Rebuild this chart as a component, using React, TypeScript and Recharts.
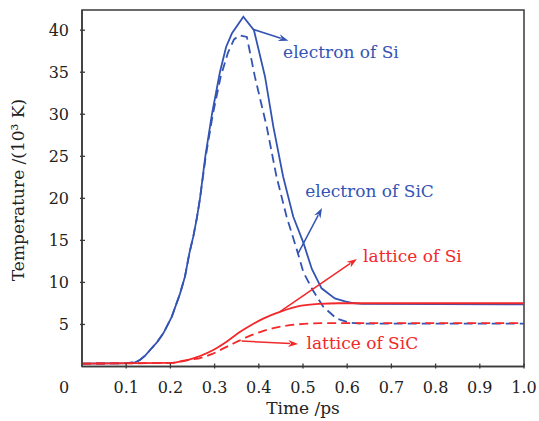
import React from 'react'
import { LineChart, Line, XAxis, YAxis, ReferenceArea, ReferenceLine, ReferenceDot } from 'recharts'

// time (ps) and temperature (10^3 K)
const elecSiT = [0, 0.06, 0.09, 0.1, 0.12, 0.131, 0.143, 0.154, 0.17, 0.184, 0.203, 0.222, 0.233, 0.243, 0.252, 0.26, 0.267, 0.279, 0.294, 0.312, 0.326, 0.339, 0.365, 0.389, 0.414, 0.433, 0.455, 0.478, 0.501, 0.52, 0.542, 0.572, 0.595, 0.613, 0.633, 1.0]
const elecSiV = [0.35, 0.36, 0.38, 0.4, 0.5, 0.77, 1.3, 1.96, 2.9, 3.95, 5.9, 8.7, 10.7, 13.5, 15.5, 17.7, 20.0, 25.0, 30.0, 35.0, 38.0, 39.6, 41.6, 40.0, 34.5, 28.5, 22.6, 17.8, 14.7, 11.6, 9.3, 8.1, 7.75, 7.55, 7.45, 7.4]

const elecSiCT = [0, 0.06, 0.09, 0.1, 0.12, 0.131, 0.143, 0.154, 0.17, 0.184, 0.203, 0.222, 0.233, 0.243, 0.252, 0.26, 0.267, 0.28, 0.296, 0.314, 0.33, 0.344, 0.356, 0.373, 0.391, 0.418, 0.44, 0.463, 0.486, 0.501, 0.523, 0.546, 0.576, 0.606, 0.63, 1.0]
const elecSiCV = [0.35, 0.36, 0.38, 0.4, 0.5, 0.77, 1.3, 1.96, 2.9, 3.95, 5.9, 8.7, 10.7, 13.5, 15.5, 17.7, 20.0, 25.0, 30.0, 34.5, 37.3, 38.9, 39.4, 39.2, 34.5, 28.5, 22.6, 17.8, 13.9, 11.2, 9.0, 7.1, 5.7, 5.2, 5.1, 5.1]

const latSiT = [0, 0.2, 0.23, 0.25, 0.267, 0.297, 0.327, 0.357, 0.385, 0.41, 0.448, 0.493, 0.538, 0.58, 1.0]
const latSiV = [0.35, 0.42, 0.7, 0.95, 1.25, 1.96, 2.95, 4.1, 5.0, 5.7, 6.5, 7.2, 7.45, 7.52, 7.52]

const latSiCT = [0, 0.2, 0.23, 0.25, 0.267, 0.295, 0.32, 0.347, 0.373, 0.403, 0.433, 0.486, 0.546, 0.6, 0.99]
const latSiCV = [0.35, 0.42, 0.65, 0.85, 1.0, 1.5, 2.15, 2.85, 3.5, 4.1, 4.55, 5.0, 5.15, 5.15, 5.15]

const xTicks = [0, 0.1, 0.2, 0.3, 0.4, 0.5, 0.6, 0.7, 0.8, 0.9, 1.0]
const xTickLabels = ['0', '0.1', '0.2', '0.3', '0.4', '0.5', '0.6', '0.7', '0.8', '0.9', '1.0']
const yTicks = [5, 10, 15, 20, 25, 30, 35, 40]
const yMax = 42.4

const BLUE = '#3454b4'
const RED = '#f2282a'
const AXIS = '#3a3a3a'
const FONT = '"DejaVu Serif", serif'

const toRows = (ts: number[], vs: number[]) => ts.map((t, i) => ({ t, v: vs[i] }))

const XTick = (props: any) => {
  const { x, y, payload, index } = props
  const label = xTickLabels[index] ?? String(payload.value)
  const isZero = payload.value === 0
  return (
    <g>
      {!isZero && <line x1={x} y1={y} x2={x} y2={y - 5} stroke={AXIS} strokeWidth={1.3} />}
      <text x={isZero ? x - 18 : x} y={y + 24} textAnchor="middle" fontSize={16} fontFamily={FONT} fill="#222">
        {label}
      </text>
    </g>
  )
}

const YTick = (props: any) => {
  const { x, y, payload } = props
  return (
    <g>
      <line x1={x} y1={y} x2={x + 5} y2={y} stroke={AXIS} strokeWidth={1.3} />
      <text x={x - 11} y={y + 5.5} textAnchor="end" fontSize={16} fontFamily={FONT} fill="#222">
        {payload.value}
      </text>
    </g>
  )
}

const arrow = (color: string) => (props: any) => {
  const { x1, y1, x2, y2 } = props
  const a = Math.atan2(y2 - y1, x2 - x1)
  const len = 10
  const w = 3.5
  const bx = x2 - len * Math.cos(a)
  const by = y2 - len * Math.sin(a)
  const px = -Math.sin(a) * w
  const py = Math.cos(a) * w
  return (
    <g>
      <line x1={x1} y1={y1} x2={bx + 2 * Math.cos(a)} y2={by + 2 * Math.sin(a)} stroke={color} strokeWidth={1.5} />
      <polygon points={`${x2},${y2} ${bx + px},${by + py} ${bx + 3 * Math.cos(a)},${by + 3 * Math.sin(a)} ${bx - px},${by - py}`} fill={color} />
    </g>
  )
}

const note = (text: string, color: string) => (props: any) => (
  <text x={props.cx} y={props.cy} fontSize={17} fontFamily={FONT} fill={color}>
    {text}
  </text>
)

export default function App() {
  return (
    <div style={{ position: 'absolute', left: 0, top: 0, background: '#fff' }}>
      <LineChart width={539} height={421} margin={{ top: 10, right: 15, left: 0, bottom: 0 }}>
        <XAxis
          dataKey="t"
          type="number"
          domain={[0, 1]}
          ticks={xTicks}
          allowDataOverflow
          height={54.5}
          tickSize={0}
          tickLine={false}
          tick={<XTick />}
          stroke={AXIS}
          strokeWidth={1.5}
          label={() => (
            <text x={303} y={414} textAnchor="middle" fontSize={17} fontFamily={FONT} fill="#222">
              Time /ps
            </text>
          )}
        />
        <YAxis
          type="number"
          domain={[0, yMax]}
          ticks={yTicks}
          allowDataOverflow
          width={82}
          tickSize={0}
          tickLine={false}
          tick={<YTick />}
          stroke={AXIS}
          strokeWidth={1.5}
          label={() => (
            <text x={0} y={0} transform="translate(24, 190) rotate(-90)" textAnchor="middle" fontSize={17} fontFamily={FONT} fill="#222">
              Temperature /(10³ K)
            </text>
          )}
        />
        <ReferenceArea x1={0} x2={1} y1={0} y2={yMax} fill="none" fillOpacity={0} stroke={AXIS} strokeWidth={1.5} />

        <Line data={toRows(elecSiT, elecSiV)} dataKey="v" type="linear" stroke={BLUE} strokeWidth={1.8} dot={false} isAnimationActive={false} />
        <Line data={toRows(elecSiCT, elecSiCV)} dataKey="v" type="linear" stroke={BLUE} strokeWidth={1.8} strokeDasharray="9 5" dot={false} isAnimationActive={false} />
        <Line data={toRows(latSiT, latSiV)} dataKey="v" type="monotone" stroke={RED} strokeWidth={1.8} dot={false} isAnimationActive={false} />
        <Line data={toRows(latSiCT, latSiCV)} dataKey="v" type="monotone" stroke={RED} strokeWidth={1.8} strokeDasharray="9 5" dot={false} isAnimationActive={false} />

        <ReferenceLine segment={[{ x: 0.387, y: 40.1 }, { x: 0.467, y: 38.75 }]} shape={arrow(BLUE)} />
        <ReferenceLine segment={[{ x: 0.489, y: 13.46 }, { x: 0.543, y: 18.85 }]} shape={arrow(BLUE)} />
        <ReferenceLine segment={[{ x: 0.448, y: 6.52 }, { x: 0.622, y: 12.79 }]} shape={arrow(RED)} />
        <ReferenceLine segment={[{ x: 0.361, y: 3.03 }, { x: 0.489, y: 2.68 }]} shape={arrow(RED)} />

        <ReferenceDot x={0.455} y={36.7} r={0} shape={note('electron of Si', BLUE)} />
        <ReferenceDot x={0.505} y={20.2} r={0} shape={note('electron of SiC', BLUE)} />
        <ReferenceDot x={0.636} y={12.43} r={0} shape={note('lattice of Si', RED)} />
        <ReferenceDot x={0.508} y={2.08} r={0} shape={note('lattice of SiC', RED)} />
      </LineChart>
    </div>
  )
}
